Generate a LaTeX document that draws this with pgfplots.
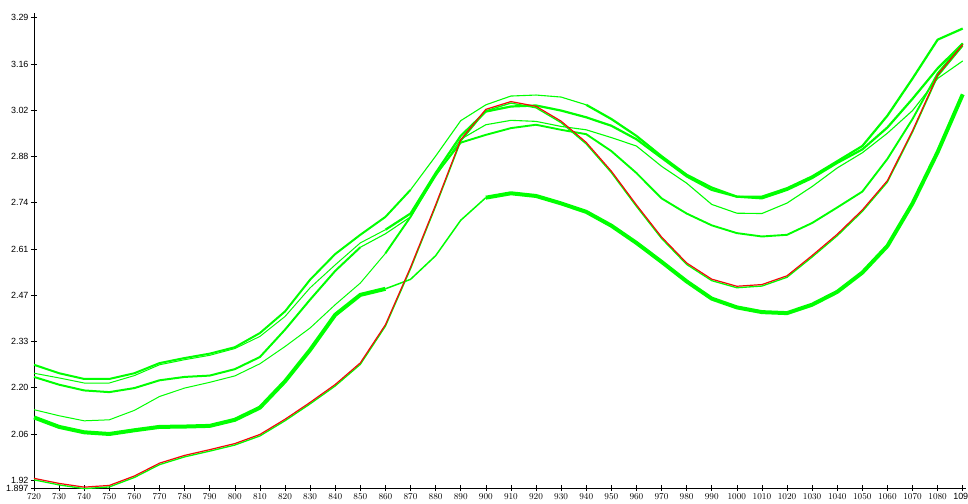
\documentclass[border=0pt]{standalone}
\usepackage{pgfplots}
\usepackage{pgfplotstable}
\usepackage{fontspec}
\setmainfont{Liberation Sans}
\pgfplotsset{compat=1.18}
\definecolor{lgreen}{RGB}{0,255,0}
\definecolor{lred}{RGB}{240,10,10}

\pgfplotstableread{
x    A     B     C     D     E     R
720  2.262 2.237 2.226 2.129 2.106 1.925
730  2.237 2.223 2.203 2.111 2.078 1.910
740  2.220 2.208 2.186 2.096 2.062 1.899
750  2.220 2.208 2.181 2.099 2.057 1.904
760  2.237 2.230 2.193 2.127 2.068 1.932
770  2.267 2.262 2.216 2.168 2.078 1.970
780  2.282 2.277 2.226 2.193 2.079 1.993
790  2.295 2.290 2.230 2.210 2.081 2.010
800  2.314 2.310 2.249 2.229 2.099 2.028
810  2.356 2.346 2.285 2.265 2.135 2.055
820  2.420 2.405 2.366 2.316 2.213 2.100
830  2.514 2.490 2.455 2.371 2.306 2.150
840  2.590 2.558 2.540 2.440 2.410 2.203
850  2.647 2.623 2.610 2.504 2.469 2.267
860  2.700 2.662 2.650 2.592 2.487 2.380
870  2.780 2.710 2.700 2.700 2.515 2.550
880  2.880 2.830 2.820 2.825 2.585 2.735
890  2.985 2.940 2.930 2.920 2.690 2.928
900  3.032 3.012 2.973 2.943 2.757 3.018
910  3.058 3.027 2.986 2.963 2.770 3.041
920  3.061 3.030 2.983 2.973 2.762 3.027
930  3.055 3.015 2.968 2.958 2.740 2.983
940  3.032 2.995 2.958 2.945 2.715 2.920
950  2.990 2.970 2.935 2.895 2.674 2.835
960  2.940 2.930 2.910 2.830 2.623 2.735
970  2.880 2.875 2.850 2.755 2.567 2.640
980  2.825 2.820 2.800 2.710 2.509 2.563
990  2.787 2.780 2.737 2.675 2.458 2.515
1000 2.760 2.760 2.711 2.652 2.432 2.494
1010 2.760 2.755 2.710 2.642 2.418 2.499
1020 2.785 2.780 2.741 2.647 2.415 2.525
1030 2.820 2.815 2.790 2.682 2.440 2.585
1040 2.865 2.860 2.845 2.728 2.478 2.648
1050 2.910 2.900 2.890 2.775 2.535 2.720
1060 3.000 2.965 2.948 2.872 2.614 2.807
1070 3.110 3.050 3.015 2.990 2.740 2.955
1080 3.225 3.140 3.110 3.125 2.892 3.120
1090 3.258 3.214 3.162 3.214 3.063 3.210
}\curves

\begin{document}
\begin{tikzpicture}
\useasboundingbox (-34bp,-16bp) rectangle (934bp,488bp);
\begin{axis}[
  scale only axis,
  width=932bp, height=475bp,
  xmin=720, xmax=1091.3,
  ymin=1.897, ymax=3.304,
  axis x line=bottom, axis y line=left,
  axis line style={-, black, line width=0.8bp},
  xtick={720,730,...,1080},
  extra x ticks={1090},
  extra x tick labels={109},
  extra x tick style={xticklabel style={xshift=-2bp}},
  ytick={1.897,1.92,2.057,2.194,2.331,2.468,2.605,2.742,2.879,3.016,3.153,3.29},
  yticklabels={1.897,1.92,2.06,2.20,2.33,2.47,2.61,2.74,2.88,3.02,3.16,3.29},
  tick align=center,
  major tick length=6bp,
  tick style={black, line width=0.6bp},
  ticklabel style={font=\fontsize{9}{10}\selectfont},
  /pgf/number format/1000 sep={},
  yticklabel style={xshift=1bp},
  xticklabel style={yshift=1bp},
  clip=false,
]
% widths change along the curves as in the source picture
\addplot[lgreen, line width=2bp, restrict x to domain=720:870] table[x=x, y=A] {\curves};
\addplot[lgreen, line width=1.1bp, restrict x to domain=870:940] table[x=x, y=A] {\curves};
\addplot[lgreen, line width=2.2bp, restrict x to domain=940:1090] table[x=x, y=A] {\curves};
\addplot[lgreen, line width=1bp, restrict x to domain=720:860] table[x=x, y=B] {\curves};
\addplot[lgreen, line width=2.2bp, restrict x to domain=860:1090] table[x=x, y=B] {\curves};
\addplot[lgreen, line width=2bp, restrict x to domain=720:850] table[x=x, y=C] {\curves};
\addplot[lgreen, line width=1.1bp, restrict x to domain=850:1090] table[x=x, y=C] {\curves};
\addplot[lgreen, line width=1bp, restrict x to domain=720:860] table[x=x, y=D] {\curves};
\addplot[lgreen, line width=1.9bp, restrict x to domain=860:1090] table[x=x, y=D] {\curves};
\addplot[lgreen, line width=4bp, restrict x to domain=720:860] table[x=x, y=E] {\curves};
\addplot[lgreen, line width=1.5bp, restrict x to domain=860:900] table[x=x, y=E] {\curves};
\addplot[lgreen, line width=4bp, restrict x to domain=900:1090] table[x=x, y=E] {\curves};
% red curve drawn on top of its green twin, which sits a pixel lower
\addplot[lgreen, line width=1.3bp, yshift=-1.3bp] table[x=x, y=R] {\curves};
\addplot[lred, line width=1.2bp, yshift=0.2bp] table[x=x, y=R] {\curves};
\end{axis}
\end{tikzpicture}
\end{document}
